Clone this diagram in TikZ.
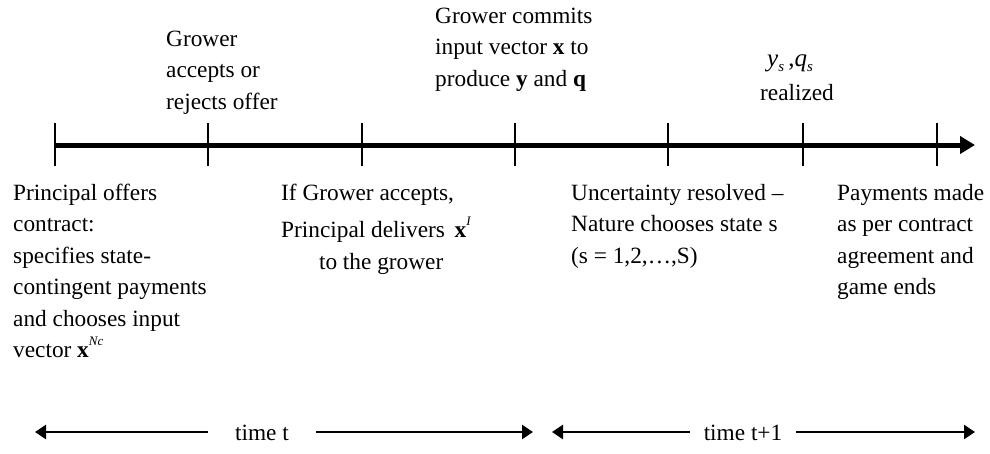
\documentclass[tikz,border=0pt]{standalone}
\usepackage{fontspec}
\setmainfont{Liberation Serif}
\usetikzlibrary{arrows.meta}
\newcommand{\vecsup}[2]{\textbf{#1}\raisebox{12pt}{\fontsize{13}{13}\selectfont\textit{#2}}}
\newcommand{\subs}[1]{\textit{#1}\raisebox{-5pt}{\fontsize{15}{15}\selectfont\textit{s}}}
\begin{document}
\begin{tikzpicture}[x=1pt,y=1pt,
  txt/.style={anchor=base west, inner sep=0pt, font=\fontsize{23.3}{31.5}\selectfont},
  ctxt/.style={anchor=base, inner sep=0pt, font=\fontsize{23.3}{31.5}\selectfont},
  tickline/.style={line width=2pt},
  mainline/.style={line width=5pt, -{Triangle[length=15pt,width=17pt]}},
  spanline/.style={line width=2.6pt, -{Triangle[length=11pt,width=14pt]}},
  spantext/.style={anchor=base, inner ysep=0pt, font=\fontsize{23.3}{31.5}\selectfont}]
\useasboundingbox (0,0) rectangle (990,-453);

% main time line
\coordinate (tstart) at (55,-145);
\coordinate (tend) at (975,-145);
\draw[mainline] (tstart) -- (tend);
\foreach \x in {55,208,362,515,668,803,937}
  \draw[tickline] (\x,-123) -- (\x,-166);

% texts above the line
\node[txt] (accept) at (166,-46) {\begin{tabular}[t]{@{}l@{}}Grower\\ accepts or\\ rejects offer\end{tabular}};
\node[txt] (commit) at (435,-23) {\begin{tabular}[t]{@{}l@{}}Grower commits\\ input vector \textbf{x} to\\ produce \textbf{y} and \textbf{q}\end{tabular}};
\node[ctxt, font=\fontsize{25}{30}\selectfont] (yq) at (790,-66) {\subs{y}\,,\subs{q}};
\node[ctxt] (realized) at (797,-100) {realized};

% texts below the line
\node[txt] (offer) at (13,-200) {\begin{tabular}[t]{@{}l@{}}Principal offers\\ contract:\\ specifies state-\\ contingent payments\\ and chooses input\\ vector \vecsup{x}{Nc}\end{tabular}};
\node[txt] (deliver) at (281,-200) {\begin{tabular}[t]{@{}l@{}}If Grower accepts,\\[6pt] Principal delivers \,\vecsup{x}{I}\\ \multicolumn{1}{@{}c@{}}{\hspace*{10pt}to the grower}\end{tabular}};
\node[txt] (nature) at (571,-200) {\begin{tabular}[t]{@{}l@{}}Uncertainty resolved --\\ Nature chooses state s\\ (s = 1,2,\dots,S)\end{tabular}};
\node[txt] (pay) at (837,-200) {\begin{tabular}[t]{@{}l@{}}Payments made\\ as per contract\\ agreement and\\ game ends\end{tabular}};

% period spans
\coordinate (p1l) at (35,-432);
\coordinate (p1r) at (533,-432);
\node[spantext, inner xsep=27pt] (tt) at (262,-440) {time t};
\draw[spanline] (tt.west |- p1l) -- (p1l);
\draw[spanline] (tt.east |- p1r) -- (p1r);

\coordinate (p2l) at (552,-432);
\coordinate (p2r) at (975,-432);
\node[spantext, inner xsep=14pt] (tt1) at (743,-440) {time t+1};
\draw[spanline] (tt1.west |- p2l) -- (p2l);
\draw[spanline] (tt1.east |- p2r) -- (p2r);
\end{tikzpicture}
\end{document}
